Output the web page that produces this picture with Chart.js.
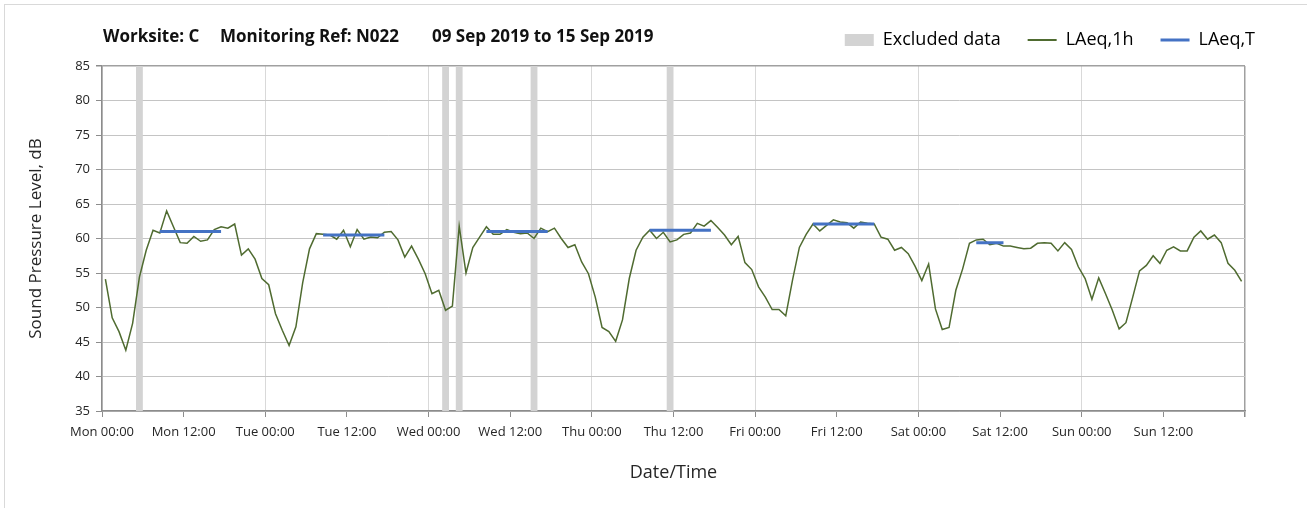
<!DOCTYPE html>
<html>
<head>
<meta charset="utf-8">
<script src="https://cdn.jsdelivr.net/npm/chart.js@4/dist/chart.umd.min.js"></script>
<style>
  html, body { margin: 0; padding: 0; background: #ffffff; }
  #wrap { position: relative; width: 1307px; height: 508px; overflow: hidden; }
  canvas { display: block; }
</style>
</head>
<body>
<div id="wrap"><canvas id="chart" width="1307" height="508"></canvas></div>
<script>
// Hourly LAeq,1h readings, Mon 00:00 .. Sun 23:00 (one value per hour)
const laeq1h = [
  54.1, 48.5, 46.5, 43.8, 47.7, 54.4, 58.3, 61.2, 60.8, 64.0,
  61.7, 59.4, 59.3, 60.3, 59.6, 59.8, 61.3, 61.7, 61.5, 62.1,
  57.6, 58.5, 57.0, 54.2, 53.3, 49.1, 46.7, 44.5, 47.2, 53.6,
  58.5, 60.7, 60.6, 60.5, 59.9, 61.2, 58.8, 61.3, 59.9, 60.2,
  60.1, 60.9, 61.0, 59.8, 57.3, 58.9, 57.0, 54.9, 52.0, 52.5,
  49.6, 50.2, 61.8, 55.0, 58.7, 60.2, 61.7, 60.6, 60.6, 61.3,
  60.9, 60.7, 60.8, 60.0, 61.5, 61.0, 61.5, 60.0, 58.7, 59.1,
  56.6, 54.9, 51.5, 47.1, 46.5, 45.1, 48.2, 54.2, 58.3, 60.2,
  61.2, 60.0, 60.9, 59.5, 59.8, 60.6, 60.8, 62.2, 61.8, 62.6,
  61.6, 60.5, 59.1, 60.3, 56.5, 55.5, 53.0, 51.5, 49.7, 49.7,
  48.8, 54.0, 58.7, 60.6, 62.1, 61.1, 61.9, 62.7, 62.4, 62.3,
  61.5, 62.4, 62.2, 62.1, 60.2, 59.9, 58.3, 58.7, 57.8, 56.0,
  53.9, 56.3, 49.8, 46.8, 47.1, 52.5, 55.6, 59.3, 59.8, 59.9,
  59.1, 59.3, 58.9, 58.9, 58.7, 58.5, 58.6, 59.3, 59.4, 59.3,
  58.2, 59.4, 58.4, 55.9, 54.2, 51.2, 54.3, 52.0, 49.6, 46.9,
  47.8, 51.5, 55.3, 56.1, 57.5, 56.4, 58.3, 58.8, 58.2, 58.2,
  60.2, 61.1, 59.9, 60.5, 59.4, 56.4, 55.4, 53.8
];

// LAeq,T over each daytime assessment period (first and last hour index, level)
const periodStartHour = [8, 32, 56, 80, 104, 128];
const periodEndHour   = [17, 41, 65, 89, 113, 132];
const periodLevel     = [61.0, 60.5, 61.0, 61.2, 62.1, 59.4];

// Hours (index from Mon 00:00) flagged as excluded
const excludedHours = [5, 50, 52, 63, 83];

// Axis tick labels every 12 hours
const tickLabels = [
  'Mon 00:00', 'Mon 12:00', 'Tue 00:00', 'Tue 12:00', 'Wed 00:00', 'Wed 12:00',
  'Thu 00:00', 'Thu 12:00', 'Fri 00:00', 'Fri 12:00', 'Sat 00:00', 'Sat 12:00',
  'Sun 00:00', 'Sun 12:00', ''
];

const titleParts = ['Worksite: C', 'Monitoring Ref: N022', '09 Sep 2019 to 15 Sep 2019'];
const seriesNames = ['Excluded data', 'LAeq,1h', 'LAeq,T'];

const FONT = "'Open Sans', 'DejaVu Sans', sans-serif";
const GREEN = '#4f6b30';
const BLUE = '#4472c4';
const EXCL = '#d3d3d3';

// points sit in the middle of their hour
const hourlyPoints = laeq1h.map((v, i) => ({ x: i + 0.5, y: v }));

const periodPoints = [];
periodStartHour.forEach((s, k) => {
  for (let h = s; h <= periodEndHour[k]; h++) {
    periodPoints.push({ x: h + 0.5, y: periodLevel[k] });
  }
  periodPoints.push({ x: periodEndHour[k] + 1, y: null });
});

// shaded columns for excluded hours, drawn over the grid and under the lines
const excludedBands = {
  id: 'excludedBands',
  beforeDatasetsDraw(chart) {
    const { ctx, scales: { x, y } } = chart;
    ctx.save();
    ctx.fillStyle = EXCL;
    const top = y.getPixelForValue(y.max);
    const bottom = y.getPixelForValue(y.min);
    excludedHours.forEach(h => {
      const x1 = x.getPixelForValue(h);
      const x2 = x.getPixelForValue(h + 1);
      ctx.fillRect(x1, top, x2 - x1, bottom - top);
    });
    ctx.restore();
  }
};

// frame and heading line
const frameAndHeading = {
  id: 'frameAndHeading',
  beforeDraw(chart) {
    const { ctx } = chart;
    ctx.save();
    ctx.strokeStyle = '#d9d9d9';
    ctx.lineWidth = 1;
    ctx.strokeRect(4.5, 4.5, 1400, 600);
    ctx.restore();
  },
  afterDraw(chart) {
    const { ctx } = chart;
    ctx.save();
    ctx.fillStyle = '#111111';
    ctx.font = "bold 17px " + FONT;
    ctx.textBaseline = 'middle';
    const xs = [103, 220, 432];
    titleParts.forEach((t, i) => ctx.fillText(t, xs[i], 37));
    ctx.restore();
  }
};

new Chart(document.getElementById('chart'), {
  type: 'line',
  data: {
    datasets: [
      {
        label: seriesNames[1],
        data: hourlyPoints,
        borderColor: GREEN,
        borderWidth: 1.5,
        pointRadius: 0,
        tension: 0,
        order: 1
      },
      {
        label: seriesNames[2],
        data: periodPoints,
        borderColor: BLUE,
        borderWidth: 3,
        pointRadius: 0,
        spanGaps: false,
        order: 0
      }
    ]
  },
  options: {
    responsive: false,
    animation: false,
    layout: { padding: { left: 0, right: 25, top: 4, bottom: 0 } },
    plugins: {
      tooltip: { enabled: false },
      legend: {
        position: 'top',
        align: 'end',
        onClick: null,
        labels: {
          usePointStyle: true,
          pointStyleWidth: 29,
          boxHeight: 12,
          padding: 27,
          color: '#262626',
          font: { family: FONT, size: 18 },
          generateLabels() {
            return [
              { text: seriesNames[0], fillStyle: EXCL, strokeStyle: EXCL, lineWidth: 0, pointStyle: 'rect', hidden: false },
              { text: seriesNames[1], fillStyle: GREEN, strokeStyle: GREEN, lineWidth: 2, pointStyle: 'line', hidden: false },
              { text: seriesNames[2], fillStyle: BLUE, strokeStyle: BLUE, lineWidth: 3, pointStyle: 'line', hidden: false }
            ];
          }
        }
      }
    },
    scales: {
      x: {
        type: 'linear',
        min: 0,
        max: 168,
        afterFit(s) { s.height = 97; },
        ticks: {
          stepSize: 12,
          autoSkip: false,
          maxRotation: 0,
          padding: 7,
          color: '#262626',
          font: { family: FONT, size: 13 },
          callback: (v) => tickLabels[Math.round(v / 12)]
        },
        grid: {
          color: (c) => {
            const v = c.tick ? c.tick.value : 0;
            if (v === 168) return '#a0a0a0';
            return v % 24 === 0 ? '#d9d9d9' : 'rgba(0,0,0,0)';
          },
          lineWidth: (c) => (c.tick && c.tick.value === 168 ? 1.5 : 1),
          tickColor: '#8c8c8c',
          tickLength: 6,
          drawTicks: true
        },
        border: { color: '#8c8c8c', width: 1.5 },
        title: {
          display: true,
          text: 'Date/Time',
          color: '#262626',
          font: { family: FONT, size: 18 },
          padding: { top: 0, bottom: 24 }
        }
      },
      // spacer between the legend row and the plot
      xtop: {
        type: 'linear',
        position: 'top',
        display: true,
        afterFit(s) { s.height = 7; },
        ticks: { display: false },
        grid: { display: false, drawTicks: false },
        border: { display: false }
      },
      y: {
        min: 35,
        max: 85,
        afterFit(s) { s.width = 102; },
        ticks: {
          stepSize: 5,
          padding: 6,
          color: '#262626',
          font: { family: FONT, size: 13 }
        },
        grid: {
          color: (c) => (c.tick && c.tick.value === 85 ? '#a0a0a0' : '#c4c4c4'),
          lineWidth: (c) => (c.tick && c.tick.value === 85 ? 1.5 : 1),
          tickColor: '#8c8c8c',
          tickLength: 6
        },
        border: { color: '#8c8c8c', width: 1.5 },
        title: {
          display: true,
          text: 'Sound Pressure Level, dB',
          color: '#262626',
          font: { family: FONT, size: 17 },
          padding: { top: 26, bottom: 0 }
        }
      },
      yr: {
        position: 'right',
        display: true,
        afterFit(s) { s.width = 37; },
        ticks: { display: false },
        grid: { display: false, drawTicks: false },
        border: { display: false }
      }
    }
  },
  plugins: [excludedBands, frameAndHeading]
});
</script>
</body>
</html>
